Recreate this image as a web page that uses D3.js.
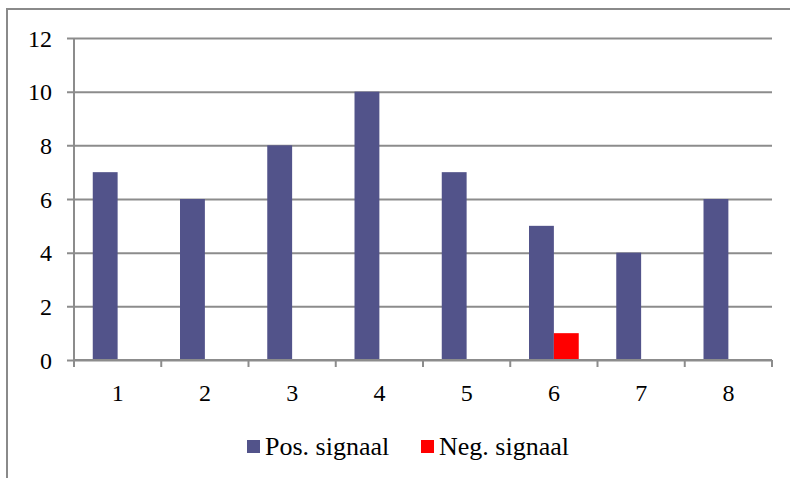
<!DOCTYPE html>
<html>
<head>
<meta charset="utf-8">
<script src="https://cdn.jsdelivr.net/npm/d3@7"></script>
<style>
  html, body { margin: 0; padding: 0; background: #fff; }
  svg { display: block; }
</style>
</head>
<body>
<svg id="chart" width="790" height="478"></svg>
<script>
// Categories and series
const categories = ["1", "2", "3", "4", "5", "6", "7", "8"];
const posValues = [7, 6, 8, 10, 7, 5, 4, 6];
const negValues = [0, 0, 0, 0, 0, 1, 0, 0];
const seriesNames = ["Pos. signaal", "Neg. signaal"];
const seriesColors = ["#52538A", "#FF0000"];
const yTicks = [0, 2, 4, 6, 8, 10, 12];

const FONT = "'Liberation Serif'";
const svg = d3.select("#chart");
const W = 790, H = 478;
const plot = { left: 74, right: 772, top: 38, bottom: 360 };
const gridColor = "#8c8c8c";

// Outer chart frame (left and top edges)
svg.append("path")
  .attr("d", `M7,${H} L7,9 L${W},9`)
  .attr("fill", "none")
  .attr("stroke", "#8a8a8a")
  .attr("stroke-width", 2);

const x0 = d3.scaleBand().domain(categories).range([plot.left, plot.right]).padding(0);
const groupPad = 0.215;
const x1 = d3.scaleBand().domain(seriesNames)
  .range([x0.bandwidth() * groupPad, x0.bandwidth() * (1 - groupPad)]).padding(0);
const y = d3.scaleLinear().domain([0, 12]).range([plot.bottom, plot.top]);

// Horizontal gridlines with left tick marks
const yAxis = d3.axisLeft(y).tickValues(yTicks)
  .tickSize(-(plot.right - plot.left)).tickSizeOuter(0).tickPadding(15).tickFormat(d3.format("d"));
const gy = svg.append("g").attr("transform", `translate(${plot.left},0)`).call(yAxis);
gy.select(".domain").remove();
gy.selectAll(".tick line").attr("stroke", gridColor).attr("stroke-width", 2)
  .attr("x1", -7);
gy.selectAll(".tick text").attr("font-size", 24).attr("x", -22).attr("dy", "0.34em")
  .style("font-family", FONT).attr("fill", "#000");

// Vertical axis line
svg.append("line")
  .attr("x1", plot.left).attr("x2", plot.left)
  .attr("y1", plot.top).attr("y2", plot.bottom + 7)
  .attr("stroke", gridColor).attr("stroke-width", 2);

// Bars
const rows = categories.map((c, i) => ({ cat: c, vals: [posValues[i], negValues[i]] }));
const groups = svg.append("g").selectAll("g").data(rows).join("g")
  .attr("transform", d => `translate(${x0(d.cat)},0)`);
groups.selectAll("rect")
  .data(d => d.vals.map((v, k) => ({ v, k })).filter(e => e.v > 0))
  .join("rect")
  .attr("x", e => x1(seriesNames[e.k]))
  .attr("width", x1.bandwidth())
  .attr("y", e => y(e.v))
  .attr("height", e => y(0) - y(e.v))
  .attr("fill", e => seriesColors[e.k]);

// Category axis
const xAxis = d3.axisBottom(x0).tickSize(0).tickPadding(0);
const gx = svg.append("g").attr("transform", `translate(0,${plot.bottom})`).call(xAxis);
gx.select(".domain").attr("stroke", gridColor).attr("stroke-width", 2)
  .attr("d", `M${plot.left},0H${plot.right}`);
gx.selectAll(".tick text").attr("font-size", 24).attr("y", 41).attr("dy", null)
  .style("font-family", FONT).attr("fill", "#000");
// Tick marks between categories
svg.append("g").selectAll("line")
  .data(categories.concat(["end"]))
  .join("line")
  .attr("x1", (d, i) => i < categories.length ? x0(d) : plot.right)
  .attr("x2", (d, i) => i < categories.length ? x0(d) : plot.right)
  .attr("y1", plot.bottom).attr("y2", plot.bottom + 7)
  .attr("stroke", gridColor).attr("stroke-width", 2);

// Legend
const legendX = [247, 421];
const legend = svg.append("g").selectAll("g").data(seriesNames).join("g")
  .attr("transform", (d, i) => `translate(${legendX[i]},440)`);
legend.append("rect").attr("width", 13).attr("height", 13)
  .attr("fill", (d, i) => seriesColors[i]);
legend.append("text").attr("x", 18).attr("y", 15)
  .attr("font-size", 26).style("font-family", FONT).attr("fill", "#000")
  .text(d => d);
</script>
</body>
</html>
